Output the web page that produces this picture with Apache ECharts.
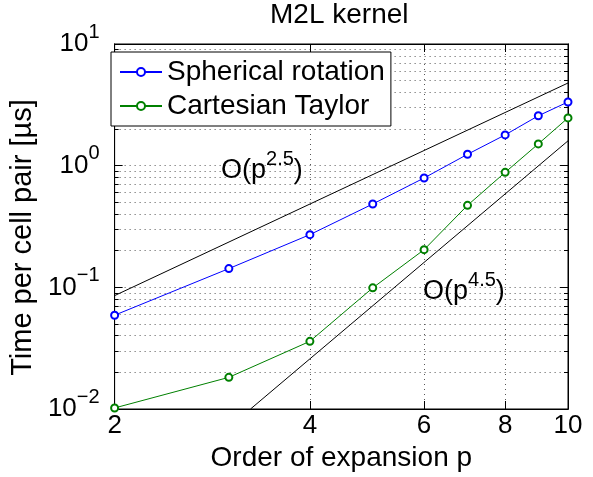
<!DOCTYPE html>
<html>
<head>
<meta charset="utf-8">
<script src="https://cdn.jsdelivr.net/npm/echarts@6/dist/echarts.min.js"></script>
<style>
  html, body { margin: 0; padding: 0; background: #fff; }
  #chart { width: 593px; height: 477px; }
</style>
</head>
<body>
<div id="chart"></div>
<script>
// order of expansion p
var orders = [2, 3, 4, 5, 6, 7, 8, 9, 10];
// time per cell pair [us]
var spherical = [0.059, 0.1425, 0.271, 0.484, 0.792, 1.24, 1.79, 2.57, 3.34];
var cartesian = [0.0102, 0.0182, 0.036, 0.099, 0.204, 0.472, 0.881, 1.51, 2.47];
// guide lines, end points [p, t]
var guide25 = [[2, 0.0855], [10, 4.78]];
var guide45 = [[3.24, 0.01], [10, 1.6]];
// ticks
var xTicks = [2, 4, 6, 8, 10];
var yTicks = [0.01, 0.1, 1, 10];
var yMinor = [0.01, 0.02, 0.03, 0.04, 0.05, 0.06, 0.07, 0.08, 0.09,
              0.1, 0.2, 0.3, 0.4, 0.5, 0.6, 0.7, 0.8, 0.9,
              1, 2, 3, 4, 5, 6, 7, 8, 9, 10];

var FONT = '"Liberation Sans", Arial, Helvetica, sans-serif';
var GRID_LINE = { color: '#555', width: 1, type: [1, 4] };

var chart = echarts.init(document.getElementById('chart'), null, { renderer: 'canvas' });

function pairs(xs, ys) {
  var out = [];
  for (var i = 0; i < xs.length; i++) {
    out.push([xs[i], ys[i]]);
  }
  return out;
}

// 10 with a raised exponent
function supLabel(v) {
  var e = Math.round(Math.log(v) / Math.LN10);
  return '{b|10}{s|' + (e < 0 ? '\u2212' + (-e) : e) + '}';
}

var supRich = {
  b: { fontSize: 26, fontFamily: FONT, color: '#000', lineHeight: 44 },
  s: { fontSize: 20, fontFamily: FONT, color: '#000', lineHeight: 20, verticalAlign: 'top' }
};

function mirrorX(pos) {
  return {
    type: 'log', logBase: 10, min: 2, max: 10, position: pos,
    axisLine: { show: true, onZero: false, lineStyle: { color: '#000', width: 1 } },
    axisTick: { show: true, inside: true, length: 8, customValues: xTicks, lineStyle: { color: '#000' } },
    axisLabel: { show: false },
    splitLine: { show: false }
  };
}

function mirrorY(pos, ticks, len, grid) {
  return {
    type: 'log', logBase: 10, min: 0.01, max: 10, position: pos,
    axisLine: { show: true, onZero: false, lineStyle: { color: '#000', width: 1 } },
    axisTick: { show: true, inside: true, length: len, customValues: ticks, lineStyle: { color: '#000' } },
    axisLabel: { show: false },
    splitLine: { show: grid, lineStyle: GRID_LINE }
  };
}

var xMain = mirrorX('bottom');
xMain.axisLabel = {
  show: true, customValues: xTicks, margin: 4,
  fontSize: 26, fontFamily: FONT, color: '#000'
};
xMain.splitLine = { show: true, lineStyle: GRID_LINE };
xMain.name = 'Order of expansion p';
xMain.nameLocation = 'middle';
xMain.nameGap = 30;
xMain.nameTextStyle = { fontSize: 28, fontFamily: FONT, color: '#000' };

var yMain = mirrorY('left', yTicks, 8, false);
yMain.axisLabel = {
  show: true, customValues: yTicks, margin: 15,
  formatter: supLabel, rich: supRich
};
yMain.name = 'Time per cell pair [\u00b5s]';
yMain.nameLocation = 'middle';
yMain.nameGap = 64;
yMain.nameRotate = 90;
yMain.nameTextStyle = { fontSize: 29, fontFamily: FONT, color: '#000', padding: [0, 22, 0, 0] };

var annoRich = {
  b: { fontSize: 27, fontFamily: FONT, fill: '#000', lineHeight: 44 },
  s: { fontSize: 20, fontFamily: FONT, fill: '#000', lineHeight: 20, verticalAlign: 'top' }
};

var option = {
  backgroundColor: '#fff',
  animation: false,
  title: {
    text: 'M2L kernel',
    left: 270, top: 1, padding: 0,
    textStyle: { fontSize: 28, fontWeight: 'normal', fontFamily: FONT, color: '#000' }
  },
  grid: {
    left: 104, right: 25, top: 44, bottom: 68,
    show: true, backgroundColor: '#fff', borderColor: '#000', borderWidth: 1
  },
  legend: {
    orient: 'vertical', left: 111, top: 52,
    padding: [6, 6, 6, 8], itemGap: 6,
    itemWidth: 42, itemHeight: 10,
    backgroundColor: '#fff', borderColor: '#000', borderWidth: 1,
    textStyle: { fontSize: 28, fontFamily: FONT, color: '#000' },
    data: ['Spherical rotation', 'Cartesian Taylor']
  },
  xAxis: [xMain, mirrorX('top')],
  yAxis: [
    yMain,
    mirrorY('left', yMinor, 4, true),
    mirrorY('right', yTicks, 8, false),
    mirrorY('right', yMinor, 4, false)
  ],
  graphic: [
    {
      type: 'text', x: 221, y: 171, z: 100,
      style: { text: '{b|O(p}{s|2.5}{b|)}', rich: annoRich, verticalAlign: 'middle', fill: '#000' }
    },
    {
      type: 'text', x: 423, y: 292, z: 100,
      style: { text: '{b|O(p}{s|4.5}{b|)}', rich: annoRich, verticalAlign: 'middle', fill: '#000' }
    }
  ],
  series: [
    {
      name: 'O(p^2.5)', type: 'line', data: guide25, symbol: 'none',
      lineStyle: { color: '#000', width: 1 }, itemStyle: { color: '#000' },
      silent: true, clip: true, z: 3
    },
    {
      name: 'O(p^4.5)', type: 'line', data: guide45, symbol: 'none',
      lineStyle: { color: '#000', width: 1 }, itemStyle: { color: '#000' },
      silent: true, clip: true, z: 3
    },
    {
      name: 'Spherical rotation', type: 'line', data: pairs(orders, spherical),
      symbol: 'emptyCircle', symbolSize: 7, showAllSymbol: true,
      lineStyle: { color: '#0000ff', width: 1 },
      itemStyle: { color: '#0000ff', borderColor: '#0000ff', borderWidth: 1 },
      clip: false, z: 4
    },
    {
      name: 'Cartesian Taylor', type: 'line', data: pairs(orders, cartesian),
      symbol: 'emptyCircle', symbolSize: 7, showAllSymbol: true,
      lineStyle: { color: '#008000', width: 1 },
      itemStyle: { color: '#008000', borderColor: '#008000', borderWidth: 1 },
      clip: false, z: 4
    }
  ]
};

chart.setOption(option);
</script>
</body>
</html>
